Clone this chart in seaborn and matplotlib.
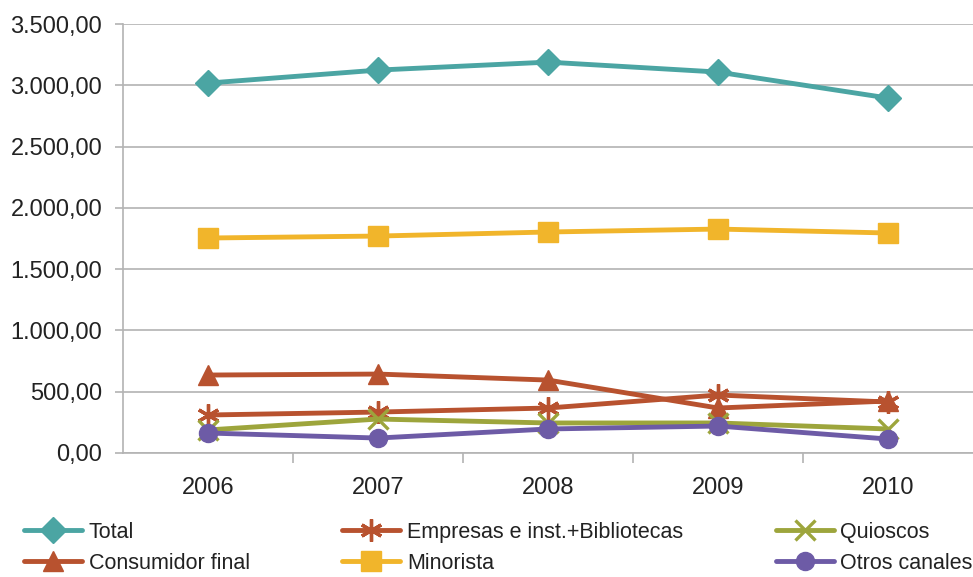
import matplotlib
matplotlib.use("Agg")
import matplotlib.pyplot as plt
import matplotlib.ticker as mticker
import seaborn as sns
import pandas as pd

# Values
years = [2006, 2007, 2008, 2009, 2010]
total = [3018, 3124, 3189, 3108, 2896]
consumidor_final = [636, 644, 595, 367, 424]
empresas = [310, 334, 367, 473, 416]
minorista = [1754, 1770, 1803, 1827, 1795]
quioscos = [188, 277, 245, 245, 196]
otros_canales = [163, 122, 196, 220, 114]

series = [
    ("Total", total, "#4BA5A3", "D", 13),
    ("Consumidor final", consumidor_final, "#B8522F", "^", 15),
    ("Empresas e inst.+Bibliotecas", empresas, "#B8522F", (6, 2, 0), 16),
    ("Minorista", minorista, "#F1B52B", "s", 14),
    ("Quioscos", quioscos, "#9DA53C", "x", 14),
    ("Otros canales", otros_canales, "#6D5BA6", "o", 13),
]

sns.set_style("white")
plt.rcParams["font.family"] = ["Liberation Sans", "DejaVu Sans"]

fig = plt.figure(figsize=(9.73, 5.77), dpi=100)
ax = fig.add_axes([123 / 973, 1 - 453 / 577, 1 - 123 / 973, (453 - 24) / 577])

for name, vals, color, marker, ms in series:
    df = pd.DataFrame({"year": years, "value": vals})
    sns.lineplot(data=df, x="year", y="value", ax=ax, color=color, linewidth=3.5,
                 marker=marker, markersize=ms, markeredgecolor=color,
                 markeredgewidth=2.4 if marker in ("x", (6, 2, 0)) else 1,
                 label=name)

ax.set_xlim(2005.5, 2010.5)
ax.set_ylim(0, 3500)
ax.set_yticks(range(0, 3501, 500))
ax.yaxis.set_major_formatter(mticker.FuncFormatter(
    lambda v, p: f"{v:,.2f}".replace(",", "X").replace(".", ",").replace("X", ".")))
ax.set_xticks(years)
ax.set_xticks([2006.5, 2007.5, 2008.5, 2009.5], minor=True)
ax.set_xlabel("")
ax.set_ylabel("")

ax.grid(axis="y", color="#B3B3B3", linewidth=1.2)
ax.set_axisbelow(True)
for s in ["top", "right"]:
    ax.spines[s].set_visible(False)
for s in ["left", "bottom"]:
    ax.spines[s].set_color("#B3B3B3")
    ax.spines[s].set_linewidth(1.2)

ax.tick_params(axis="y", which="major", length=6, color="#B3B3B3", width=1.2,
               labelsize=17, pad=9, left=True, labelcolor="#222222")
ax.tick_params(axis="x", which="major", length=0, labelsize=17, pad=17,
               labelcolor="#222222")
ax.tick_params(axis="x", which="minor", length=7, color="#B3B3B3", width=1.2,
               bottom=True)

ax.get_legend().remove()
handles, labels = ax.get_legend_handles_labels()
fig.legend(handles, labels, ncol=3, loc="upper left",
           bbox_to_anchor=(24 / 973, 1 - 522 / 577), frameon=False,
           fontsize=15.5, handlelength=2.7, handletextpad=0.3,
           columnspacing=4.3, labelspacing=0.45, borderpad=0, borderaxespad=0,
           labelcolor="#222222")

fig.savefig("out.png", dpi=100)
